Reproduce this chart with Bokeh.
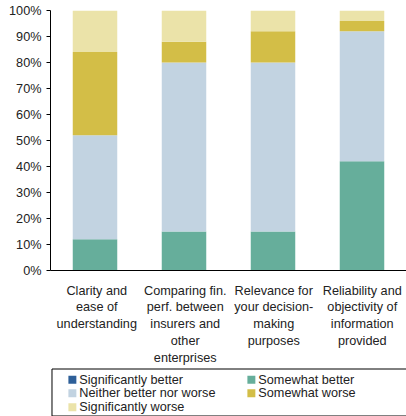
from bokeh.plotting import figure
from bokeh.layouts import column
from bokeh.models import ColumnDataSource, Range1d, FixedTicker, PrintfTickFormatter
from bokeh.core.properties import value
from bokeh.embed import file_html
from bokeh.resources import INLINE

# Survey responses (% of respondents) per aspect
categories = [
    ["Clarity and", "ease of", "understanding"],
    ["Comparing fin.", "perf. between", "insurers and", "other", "enterprises"],
    ["Relevance for", "your decision-", "making", "purposes"],
    ["Reliability and", "objectivity of", "information", "provided"],
]
series_names = ["Significantly better", "Somewhat better", "Neither better nor worse",
                "Somewhat worse", "Significantly worse"]
significantly_better = [0, 0, 0, 0]
somewhat_better = [12, 15, 15, 42]
neither = [40, 65, 65, 50]
somewhat_worse = [32, 8, 12, 4]
significantly_worse = [16, 12, 8, 4]
y_ticks = [0, 10, 20, 30, 40, 50, 60, 70, 80, 90, 100]

colors = ["#2E5F98", "#66AE9B", "#C2D3E1", "#D3BE47", "#EBE3A9"]
FONT = "Liberation Sans"
FS = "12.7px"
TEXT_COLOR = "#222222"

n = len(categories)
keys = ["sb", "wb", "nn", "ww", "sw"]
source = ColumnDataSource(dict(
    x=[i + 1 for i in range(n)],
    sb=significantly_better, wb=somewhat_better, nn=neither,
    ww=somewhat_worse, sw=significantly_worse,
))

# --- stacked bar panel ---
p = figure(width=406, height=280, output_backend="svg", toolbar_location=None,
           x_range=Range1d(0.5, n + 0.5), y_range=Range1d(0, 100),
           min_border_left=50, min_border_right=0, min_border_top=10, min_border_bottom=10)
p.outline_line_color = None
p.grid.visible = False

p.vbar_stack(keys, x="x", width=0.5, color=colors, line_color=None, source=source)

p.yaxis.ticker = FixedTicker(ticks=y_ticks)
p.yaxis.formatter = PrintfTickFormatter(format="%d%%")
p.yaxis.axis_line_color = "black"
p.yaxis.major_tick_line_color = "black"
p.yaxis.major_tick_out = 4
p.yaxis.major_tick_in = 0
p.yaxis.minor_tick_line_color = None
p.yaxis.major_label_standoff = 5
p.yaxis.major_label_text_font = FONT
p.yaxis.major_label_text_font_size = FS
p.yaxis.major_label_text_color = TEXT_COLOR

p.xaxis.ticker = FixedTicker(ticks=[])
p.xaxis.axis_line_color = "black"
p.xaxis.major_tick_line_color = None
p.xaxis.minor_tick_line_color = None
p.xaxis.major_label_text_font_size = "0px"

# --- category names and legend panel (pixel-like coordinates, origin top-left) ---
panel_left = 48
bar_unit = (406 - 50) / n
low = figure(width=406, height=136, output_backend="svg", toolbar_location=None,
             x_range=Range1d(0, 406 - panel_left), y_range=Range1d(136, 0),
             min_border_left=panel_left, min_border_right=0, min_border_top=0, min_border_bottom=0)
low.extra_x_ranges = {"cat": Range1d(0.5 - (50 - panel_left) / bar_unit, n + 0.5)}
low.axis.visible = False
low.grid.visible = False
low.outline_line_color = None

first_line = 10.0
line_gap = 16.8
lab_x, lab_y, lab_t = [], [], []
for i, lines in enumerate(categories):
    for j, txt in enumerate(lines):
        lab_x.append(i + 1)
        lab_y.append(first_line + j * line_gap)
        lab_t.append(txt)
low.text(x=lab_x, y=lab_y, text=lab_t, x_range_name="cat",
         text_font=value(FONT), text_font_size=value(FS), text_color=TEXT_COLOR,
         text_align="center", text_baseline="middle")

# legend box (runs off the right edge)
box_top = 88
box_bottom = 135
low.line(x=[1.5, 358], y=[box_top + 0.5] * 2, line_color="black", line_width=1)
low.line(x=[1.5, 358], y=[box_bottom + 0.5] * 2, line_color="black", line_width=1)
low.line(x=[1.5, 1.5], y=[box_top + 0.5, box_bottom + 0.5], line_color="black", line_width=1)

col_x = [22, 202]
row_y = [box_top + 11.3, box_top + 24.8, box_top + 38.7]
sq_x = [col_x[i % 2] for i in range(len(series_names))]
sq_y = [row_y[i // 2] for i in range(len(series_names))]
low.rect(x=sq_x, y=sq_y, width=8, height=8, color=colors, line_color=None)
low.text(x=[v + 7 for v in sq_x], y=sq_y, text=series_names,
         text_font=value(FONT), text_font_size=value(FS), text_color=TEXT_COLOR,
         text_baseline="middle", text_align="left")

layout = column(p, low, spacing=0)
open("out.html", "w").write(file_html(layout, INLINE))
